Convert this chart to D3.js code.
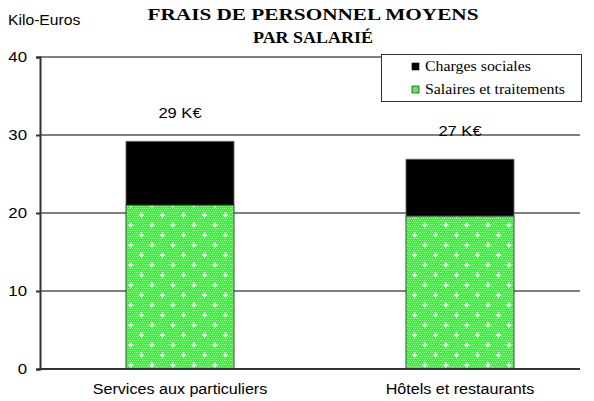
<!DOCTYPE html>
<html><head><meta charset="utf-8">
<script src="https://cdn.jsdelivr.net/npm/d3@7"></script>
<style>body{margin:0;background:#fff}svg{display:block}</style>
</head><body>
<script>
const categories = ["Services aux particuliers", "Hôtels et restaurants"];
const salaires = [21.0, 19.6];
const charges = [8.2, 7.3];
const totalLabels = ["29 K€", "27 K€"];
const seriesNames = ["Charges sociales", "Salaires et traitements"];
const yTicks = [0, 10, 20, 30, 40];

const W = 594, H = 401;
const SANS = "Liberation Sans, Arial, sans-serif";
const SERIF = "Liberation Serif, Times New Roman, serif";
const svg = d3.select("body").append("svg").attr("width", W).attr("height", H);

// stretch text horizontally to a target width (the reference is widened)
function stretch(sel, factor) {
  sel.each(function () {
    const w = this.getComputedTextLength();
    d3.select(this).attr("textLength", w * factor).attr("lengthAdjust", "spacingAndGlyphs");
  });
}

const defs = svg.append("defs");
const pat = defs.append("pattern").attr("id", "green").attr("patternUnits", "userSpaceOnUse")
  .attr("width", 21).attr("height", 20).attr("x", 0).attr("y", 0);
pat.append("rect").attr("width", 21).attr("height", 20).attr("fill", "#33f533");
for (let i = 0; i < 21; i += 2) for (let j = 0; j < 20; j += 2) {
  pat.append("rect").attr("x", i + ((j / 2) % 2)).attr("y", j).attr("width", 1).attr("height", 1).attr("fill", "#9cff9c");
}
[[5, 5], [15.5, 15]].forEach(([cx, cy]) => {
  pat.append("rect").attr("x", cx - 2.5).attr("y", cy - 0.6).attr("width", 5).attr("height", 1.4).attr("fill", "#fff");
  pat.append("rect").attr("x", cx - 0.7).attr("y", cy - 2.5).attr("width", 1.4).attr("height", 5).attr("fill", "#fff");
});

const y = d3.scaleLinear().domain([0, 40]).range([369, 57]);
const x = d3.scaleBand().domain(categories).range([40, 600]).paddingInner(0.614).paddingOuter(0.307);
const plotRight = 580;

// gridlines
svg.append("g").selectAll("line").data(yTicks.filter(d => d > 0)).join("line")
  .attr("x1", 40).attr("x2", plotRight).attr("y1", d => y(d)).attr("y2", d => y(d))
  .attr("stroke", "#000").attr("stroke-width", 1);

// bars
const data = categories.map((c, i) => ({ c, s: salaires[i], ch: charges[i], lab: totalLabels[i] }));
svg.append("g").selectAll("rect").data(data).join("rect")
  .attr("x", d => x(d.c)).attr("width", x.bandwidth())
  .attr("y", d => y(d.s)).attr("height", d => y(0) - y(d.s))
  .attr("fill", "url(#green)").attr("stroke", "#222").attr("stroke-width", 0.8);
svg.append("g").selectAll("rect").data(data).join("rect")
  .attr("x", d => x(d.c)).attr("width", x.bandwidth())
  .attr("y", d => y(d.s + d.ch)).attr("height", d => y(d.s) - y(d.s + d.ch))
  .attr("fill", "#000").attr("stroke", "#777").attr("stroke-width", 0.8);

// value labels
svg.append("g").selectAll("text").data(data).join("text")
  .attr("x", d => x(d.c) + x.bandwidth() / 2).attr("y", d => y(d.s + d.ch) - 23)
  .attr("text-anchor", "middle").attr("font-family", SANS)
  .attr("font-size", 14).text(d => d.lab).call(stretch, 1.18);

// axes
const yAxis = d3.axisLeft(y).tickValues(yTicks).tickSize(4).tickPadding(9);
const gy = svg.append("g").attr("transform", "translate(40,0)").call(yAxis);
gy.select(".domain").attr("stroke", "#333").attr("stroke-width", 2);
gy.selectAll(".tick line").attr("stroke", "#333").attr("stroke-width", 2);
gy.selectAll("text").attr("font-family", SANS).attr("font-size", 14).attr("fill", "#000").call(stretch, 1.2);

const xAxis = d3.axisBottom(x).tickSize(0).tickPadding(15);
const gx = svg.append("g").attr("transform", `translate(0,${y(0)})`).call(xAxis);
gx.select(".domain").remove();
gx.append("line").attr("x1", 39).attr("x2", plotRight).attr("y1", 0).attr("y2", 0).attr("stroke", "#333").attr("stroke-width", 2);
gx.selectAll("text").attr("font-family", SANS).attr("font-size", 14).attr("fill", "#000").call(stretch, 1.15);

// unit label
svg.append("text").attr("x", 8).attr("y", 25).attr("font-family", SANS)
  .attr("font-size", 14).text("Kilo-Euros").call(stretch, 1.12);

// title
const t1 = svg.append("text").attr("text-anchor", "middle").attr("font-family", SERIF)
  .attr("font-weight", "bold").attr("font-size", 16).attr("x", 313).attr("y", 20).text("FRAIS DE PERSONNEL MOYENS");
const t2 = svg.append("text").attr("text-anchor", "middle").attr("font-family", SERIF)
  .attr("font-weight", "bold").attr("font-size", 16).attr("x", 313).attr("y", 43).text("PAR SALARIÉ");
t1.attr("textLength", 331).attr("lengthAdjust", "spacingAndGlyphs");
t2.attr("textLength", 120).attr("lengthAdjust", "spacingAndGlyphs");

// legend
const lg = svg.append("g");
lg.append("rect").attr("x", 381.5).attr("y", 54.5).attr("width", 200).attr("height", 47)
  .attr("fill", "#fff").attr("stroke", "#333").attr("stroke-width", 1);
const fills = ["#000", "url(#green)"];
const legW = [106, 140];
seriesNames.forEach((n, i) => {
  const yy = 63 + i * 23;
  lg.append("rect").attr("x", 412).attr("y", yy).attr("width", 7).attr("height", 7)
    .attr("fill", fills[i]).attr("stroke", "#000").attr("stroke-width", 0.6);
  lg.append("text").attr("x", 425).attr("y", yy + 8).attr("font-family", SERIF)
    .attr("font-size", 14).attr("textLength", legW[i]).attr("lengthAdjust", "spacingAndGlyphs").text(n);
});
</script>
</body></html>
